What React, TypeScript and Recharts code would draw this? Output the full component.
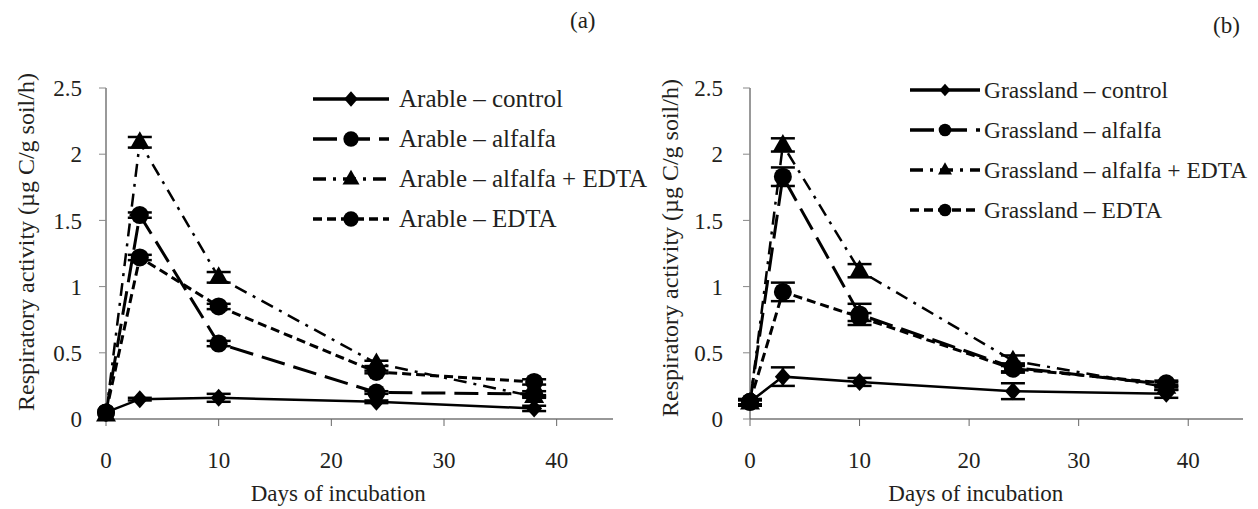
import { LineChart, Line, XAxis, YAxis, ErrorBar, Legend, Label } from 'recharts';

const days = [0, 3, 10, 24, 38];
const xTicks = [0, 10, 20, 30, 40];
const yTicks = [0, 0.5, 1, 1.5, 2, 2.5];

const arableControl = [0.05, 0.15, 0.16, 0.13, 0.08];
const arableAlfalfa = [0.05, 1.54, 0.57, 0.2, 0.19];
const arableAlfalfaEdta = [0.03, 2.09, 1.07, 0.42, 0.17];
const arableEdta = [0.05, 1.22, 0.85, 0.355, 0.28];
const arableControlErr = [0, 0.01, 0.03, 0.01, 0.02];
const arableAlfalfaErr = [0, 0.02, 0.02, 0.01, 0.02];
const arableAlfalfaEdtaErr = [0, 0.04, 0.04, 0.02, 0.01];
const arableEdtaErr = [0, 0.02, 0.02, 0.01, 0.02];

const grassControl = [0.13, 0.32, 0.28, 0.21, 0.19];
const grassAlfalfa = [0.13, 1.83, 0.79, 0.39, 0.26];
const grassAlfalfaEdta = [0.12, 2.07, 1.12, 0.44, 0.24];
const grassEdta = [0.13, 0.96, 0.77, 0.38, 0.27];
const grassControlErr = [0.02, 0.07, 0.03, 0.06, 0.03];
const grassAlfalfaErr = [0.02, 0.07, 0.08, 0.03, 0.02];
const grassAlfalfaEdtaErr = [0.02, 0.05, 0.05, 0.04, 0.02];
const grassEdtaErr = [0.02, 0.07, 0.03, 0.03, 0.02];

const FONT = '"Liberation Serif", serif';
const INK = '#231f20';

type Shape = 'diamond' | 'circle' | 'triangle';

interface SeriesStyle {
  key: string;
  dash?: string;
  width: number;
  shape: Shape;
}

const seriesStyles: SeriesStyle[] = [
  { key: 'control', width: 2.5, shape: 'diamond' },
  { key: 'alfalfa', dash: '24 9', width: 3, shape: 'circle' },
  { key: 'alfalfaEdta', dash: '13 7 3 7', width: 2.5, shape: 'triangle' },
  { key: 'edta', dash: '9 5', width: 3, shape: 'circle' },
];

function Marker({ cx, cy, shape, s = 1 }: { cx: number; cy: number; shape: Shape; s?: number }) {
  if (shape === 'diamond') {
    return <polygon points={`${cx},${cy - 9 * s} ${cx + 8 * s},${cy} ${cx},${cy + 9 * s} ${cx - 8 * s},${cy}`} fill="#000" />;
  }
  if (shape === 'triangle') {
    return <polygon points={`${cx},${cy - 11 * s} ${cx + 10 * s},${cy + 6.5 * s} ${cx - 10 * s},${cy + 6.5 * s}`} fill="#000" />;
  }
  return <circle cx={cx} cy={cy} r={9 * s} fill="#000" />;
}

function buildRows(c: number[], a: number[], ae: number[], e: number[], cE: number[], aE: number[], aeE: number[], eE: number[]) {
  return days.map((d, i) => ({
    day: d,
    control: c[i],
    alfalfa: a[i],
    alfalfaEdta: ae[i],
    edta: e[i],
    controlErr: cE[i],
    alfalfaErr: aE[i],
    alfalfaEdtaErr: aeE[i],
    edtaErr: eE[i],
  }));
}

const arableRows = buildRows(arableControl, arableAlfalfa, arableAlfalfaEdta, arableEdta,
  arableControlErr, arableAlfalfaErr, arableAlfalfaEdtaErr, arableEdtaErr);
const grassRows = buildRows(grassControl, grassAlfalfa, grassAlfalfaEdta, grassEdta,
  grassControlErr, grassAlfalfaErr, grassAlfalfaEdtaErr, grassEdtaErr);

interface PanelProps {
  rows: ReturnType<typeof buildRows>;
  names: string[];
  width: number;
  left: number;
  right: number;
  tickGap: number;
  labelY: number;
  legendLeft: number;
  legendTop: number;
  legendLine: number;
  legendGap: number;
  legendFont: number;
  markerScale: number;
}

function Panel({ rows, names, width, left, right, tickGap, labelY, legendLeft, legendTop, legendLine, legendGap, legendFont, markerScale }: PanelProps) {
  const renderLegend = (props: any) => {
    const payload = [...(props.payload || [])];
    const order = (p: any) => seriesStyles.findIndex(s => s.key === p.dataKey);
    payload.sort((a: any, b: any) => order(a) - order(b));
    return (
      <div style={{ fontFamily: FONT, fontSize: legendFont, color: INK }}>
        {payload.map((p: any) => {
          const st = seriesStyles.find(s => s.key === p.dataKey) || seriesStyles[0];
          return (
            <div key={p.dataKey} style={{ display: 'flex', alignItems: 'center', height: 40, whiteSpace: 'nowrap' }}>
              <svg width={legendLine} height={40} style={{ marginRight: legendGap }}>
                <line x1={0} x2={legendLine} y1={20} y2={20} stroke="#000" strokeWidth={3.5}
                  strokeDasharray={st.dash} />
                <Marker cx={legendLine / 2} cy={20} shape={st.shape} s={markerScale} />
              </svg>
              <span>{p.value}</span>
            </div>
          );
        })}
      </div>
    );
  };

  return (
    <LineChart width={width} height={509} data={rows}
      margin={{ top: 88, right, bottom: 30, left: left - 60 }}>
      <XAxis dataKey="day" type="number" domain={[0, 45]} ticks={xTicks} height={60}
        axisLine={{ stroke: '#333', strokeWidth: 1.2 }} tickLine={{ stroke: '#666' }} tickSize={7} tickMargin={26}
        tick={{ fill: INK, fontFamily: FONT, fontSize: 23 }}>
        <Label content={({ viewBox }: any) => (
          <text x={viewBox.x + viewBox.width * 0.458} y={501} textAnchor="middle"
            fontFamily={FONT} fontSize={23} fill={INK}>Days of incubation</text>
        )} />
      </XAxis>
      <YAxis type="number" domain={[0, 2.5]} ticks={yTicks} width={60}
        axisLine={{ stroke: '#555', strokeWidth: 1.2 }} tickLine={{ stroke: '#888' }} tickSize={7} tickMargin={tickGap}
        tick={{ fill: INK, fontFamily: FONT, fontSize: 23 }}>
        <Label content={({ viewBox }: any) => {
          const x = viewBox.x + viewBox.width - 80;
          const y = labelY;
          return (
            <text x={x} y={y} transform={`rotate(-90 ${x} ${y})`} textAnchor="middle" dominantBaseline="central"
              fontFamily={FONT} fontSize={24} fill={INK}>Respiratory activity (µg C/g soil/h)</text>
          );
        }} />
      </YAxis>
      <Legend layout="vertical" align="center" verticalAlign="middle" content={renderLegend}
        wrapperStyle={{ left: legendLeft, top: legendTop, width: 'auto', height: 'auto' }} />
      {seriesStyles.map((st, i) => (
        <Line key={st.key} dataKey={st.key} name={names[i]} stroke="#000" strokeWidth={st.width}
          strokeDasharray={st.dash} isAnimationActive={false} legendType="line"
          dot={(p: any) => <Marker key={`${st.key}-${p.index}`} cx={p.cx} cy={p.cy} shape={st.shape} />}
          activeDot={false}>
          <ErrorBar dataKey={`${st.key}Err`} direction="y" width={12} strokeWidth={2.5} stroke="#000" isAnimationActive={false} />
        </Line>
      ))}
    </LineChart>
  );
}

const arableNames = ['Arable – control', 'Arable – alfalfa', 'Arable – alfalfa + EDTA', 'Arable – EDTA'];
const grassNames = ['Grassland – control', 'Grassland – alfalfa', 'Grassland – alfalfa + EDTA', 'Grassland – EDTA'];

export default function App() {
  return (
    <div style={{ position: 'absolute', left: 0, top: 0, width: 1258, height: 509, background: '#fff', fontFamily: FONT }}>
      <div style={{ position: 'absolute', left: 0, top: 0 }}>
        <Panel rows={arableRows} names={arableNames} width={640} left={106} right={27} tickGap={17} labelY={242}
          legendLeft={313} legendTop={79} legendLine={76} legendGap={10} legendFont={25} markerScale={0.85} />
      </div>
      <div style={{ position: 'absolute', left: 640, top: 0 }}>
        <Panel rows={grassRows} names={grassNames} width={618} left={110} right={15} tickGap={20} labelY={248}
          legendLeft={270} legendTop={70} legendLine={70} legendGap={4} legendFont={23.5} markerScale={0.7} />
      </div>
      <div style={{ position: 'absolute', left: 570, top: 8, fontSize: 23, color: INK }}>(a)</div>
      <div style={{ position: 'absolute', left: 1213, top: 13, fontSize: 23, color: INK }}>(b)</div>
    </div>
  );
}
